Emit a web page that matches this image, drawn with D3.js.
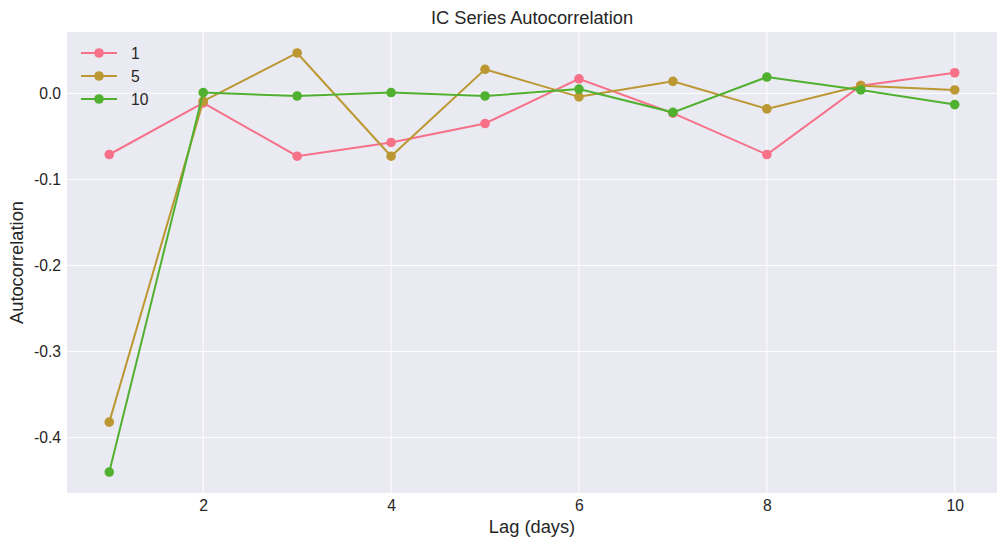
<!DOCTYPE html>
<html>
<head>
<meta charset="utf-8">
<script src="https://cdn.jsdelivr.net/npm/d3@7"></script>
<style>
  body { margin: 0; background: #fff; }
  text { font-family: "Liberation Sans", Arial, sans-serif; fill: #262626; }
</style>
</head>
<body>
<div id="chart"></div>
<script>
// Lags and autocorrelation values per horizon
const lags = [1, 2, 3, 4, 5, 6, 7, 8, 9, 10];
const seriesNames = ["1", "5", "10"];
const acf1 = [-0.071, -0.011, -0.073, -0.057, -0.035, 0.017, -0.023, -0.071, 0.009, 0.024];
const acf5 = [-0.382, -0.009, 0.047, -0.073, 0.028, -0.004, 0.014, -0.018, 0.009, 0.004];
const acf10 = [-0.440, 0.001, -0.003, 0.001, -0.003, 0.005, -0.022, 0.019, 0.004, -0.013];
const xTicks = [2, 4, 6, 8, 10];
const yTicks = [0, -0.1, -0.2, -0.3, -0.4];
const colors = ["#f77189", "#bb9832", "#50b131"];

const width = 1007, height = 547;
const margin = {top: 32, right: 10, bottom: 54, left: 67};

const svg = d3.select("#chart")
  .append("svg")
    .attr("width", width)
    .attr("height", height);

const series = [acf1, acf5, acf10].map((vals, i) => ({
  name: seriesNames[i],
  color: colors[i],
  points: lags.map((lag, j) => ({lag, value: vals[j]}))
}));

// matplotlib-like 5% padding on both axes
const allVals = [...acf1, ...acf5, ...acf10];
const xPad = (d3.max(lags) - d3.min(lags)) * 0.05;
const yMin = d3.min(allVals), yMax = d3.max(allVals);
const yPad = (yMax - yMin) * 0.05;

const xScale = d3.scaleLinear()
  .domain([d3.min(lags) - xPad, d3.max(lags) + xPad])
  .range([margin.left, width - margin.right]);

const yScale = d3.scaleLinear()
  .domain([yMin - yPad, yMax + yPad])
  .range([height - margin.bottom, margin.top]);

// plot background
svg.append("rect")
  .attr("x", margin.left)
  .attr("y", margin.top)
  .attr("width", width - margin.left - margin.right)
  .attr("height", height - margin.top - margin.bottom)
  .attr("fill", "#eaeaf2");

// grid lines
svg.append("g")
  .selectAll("line")
  .data(xTicks)
  .join("line")
    .attr("x1", d => xScale(d)).attr("x2", d => xScale(d))
    .attr("y1", margin.top).attr("y2", height - margin.bottom)
    .attr("stroke", "#fff").attr("stroke-width", 1);

svg.append("g")
  .selectAll("line")
  .data(yTicks)
  .join("line")
    .attr("x1", margin.left).attr("x2", width - margin.right)
    .attr("y1", d => yScale(d)).attr("y2", d => yScale(d))
    .attr("stroke", "#fff").attr("stroke-width", 1);

// axes (labels only, no domain / tick marks)
const xAxis = svg.append("g")
  .attr("transform", `translate(0,${height - margin.bottom})`)
  .call(d3.axisBottom(xScale).tickValues(xTicks).tickSize(0).tickPadding(7).tickFormat(d3.format("d")));
xAxis.select(".domain").remove();
xAxis.attr("font-size", null);
xAxis.selectAll("text").style("font-size", "15.7px").attr("fill", "#262626");

const yAxis = svg.append("g")
  .attr("transform", `translate(${margin.left},0)`)
  .call(d3.axisLeft(yScale).tickValues(yTicks).tickSize(0).tickPadding(6));
yAxis.select(".domain").remove();
yAxis.attr("font-size", null);
yAxis.selectAll("text").style("font-size", "15.7px").attr("fill", "#262626")
  .text(d => d3.format(".1f")(d).replace("−", "-"));

// lines and markers
const line = d3.line()
  .x(d => xScale(d.lag))
  .y(d => yScale(d.value));

const groups = svg.append("g")
  .selectAll("g")
  .data(series)
  .join("g");

groups.append("path")
  .attr("d", d => line(d.points))
  .attr("fill", "none")
  .attr("stroke", d => d.color)
  .attr("stroke-width", 2);

groups.selectAll("circle")
  .data(d => d.points.map(p => ({...p, color: d.color})))
  .join("circle")
    .attr("cx", d => xScale(d.lag))
    .attr("cy", d => yScale(d.value))
    .attr("r", 4.8)
    .attr("fill", d => d.color);

// title and axis labels
svg.append("text")
  .attr("x", (margin.left + width - margin.right) / 2)
  .attr("y", 24)
  .attr("text-anchor", "middle")
  .style("font-size", "18.3px")
  .text("IC Series Autocorrelation");

svg.append("text")
  .attr("x", (margin.left + width - margin.right) / 2)
  .attr("y", 533)
  .attr("text-anchor", "middle")
  .style("font-size", "18.3px")
  .text("Lag (days)");

svg.append("text")
  .attr("transform", `translate(23,${(margin.top + height - margin.bottom) / 2}) rotate(-90)`)
  .attr("text-anchor", "middle")
  .style("font-size", "18.3px")
  .text("Autocorrelation");

// legend
const legend = svg.append("g")
  .attr("transform", `translate(81,53)`);

const legendRows = legend.selectAll("g")
  .data(series)
  .join("g")
    .attr("transform", (d, i) => `translate(0,${i * 23})`);

legendRows.append("line")
  .attr("x1", 0).attr("x2", 36)
  .attr("stroke", d => d.color)
  .attr("stroke-width", 2);

legendRows.append("circle")
  .attr("cx", 18).attr("r", 4.8)
  .attr("fill", d => d.color);

legendRows.append("text")
  .attr("x", 50)
  .attr("dy", "0.35em")
  .style("font-size", "15.7px")
  .text(d => d.name);
</script>
</body>
</html>
